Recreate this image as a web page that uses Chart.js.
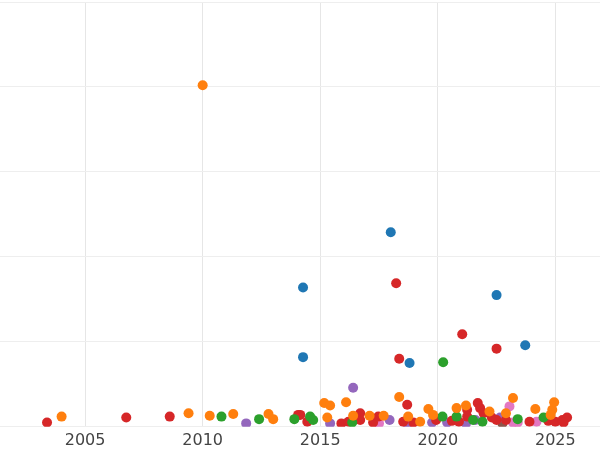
<!DOCTYPE html>
<html>
<head>
<meta charset="utf-8">
<script src="https://cdn.jsdelivr.net/npm/chart.js@4"></script>
<style>
  html, body { margin: 0; padding: 0; background: #fff; overflow: hidden; }
  #wrap { width: 610px; height: 453px; margin-top: -3px; margin-left: -5px; }
</style>
</head>
<body>
<div id="wrap"><canvas id="myChart"></canvas></div>
<script>
// [year, value] pairs per series
const blue = [[2018.0, 229], [2014.27, 164], [2022.5, 155], [2023.72, 96], [2014.27, 82], [2018.8, 75]];
const orange = [[2010.0, 402], [2004.0, 12], [2009.4, 16], [2010.3, 13], [2011.3, 15], [2012.8, 15], [2013.0, 9],
  [2015.17, 28], [2015.42, 25], [2015.3, 11], [2016.1, 29], [2016.4, 13], [2017.1, 13], [2017.7, 13],
  [2018.36, 35], [2018.74, 12], [2019.25, 6], [2019.6, 21], [2019.8, 14], [2020.8, 22], [2021.2, 25],
  [2022.2, 18], [2022.9, 16], [2023.2, 34], [2024.15, 21], [2024.87, 20], [2024.95, 29], [2024.8, 14]];
const green = [[2020.23, 76], [2010.8, 12], [2012.4, 9], [2013.9, 9], [2014.57, 12], [2014.7, 8], [2016.36, 5],
  [2020.2, 12], [2020.8, 12], [2021.5, 8], [2021.9, 6], [2023.4, 9], [2024.5, 11]];
const red = [[2018.23, 169], [2021.04, 109], [2022.5, 92], [2018.36, 80], [2003.38, 5], [2006.75, 11], [2008.6, 12],
  [2014.06, 14], [2014.15, 14], [2014.45, 6], [2015.9, 4], [2016.2, 6], [2016.7, 16], [2016.7, 8],
  [2017.25, 5], [2017.47, 12], [2018.7, 26], [2018.53, 6], [2018.96, 5], [2019.93, 8], [2020.6, 7],
  [2020.9, 6], [2021.25, 20], [2021.25, 12], [2021.7, 28], [2021.8, 22], [2021.95, 16], [2022.3, 11],
  [2022.5, 8], [2022.9, 8], [2023.9, 6], [2024.7, 7], [2025.0, 6], [2025.3, 8], [2025.5, 11], [2025.35, 5]];
const purple = [[2016.4, 46], [2011.85, 4], [2015.42, 4], [2017.95, 8], [2018.7, 4], [2019.76, 5], [2020.4, 5],
  [2021.2, 4], [2021.6, 8], [2022.65, 11]];
const pink = [[2017.5, 4], [2023.05, 24], [2023.2, 5], [2023.4, 5], [2024.2, 6]];
const brown = [[2022.75, 4]];

const xTicks = [2005, 2010, 2015, 2020, 2025];

const toPts = arr => arr.map(p => ({ x: p[0], y: p[1] }));
const series = [
  ["#1f77b4", blue], ["#ff7f0e", orange], ["#2ca02c", green], ["#d62728", red],
  ["#9467bd", purple], ["#e377c2", pink], ["#8c564b", brown]
];

new Chart(document.getElementById("myChart"), {
  type: "scatter",
  data: {
    datasets: series.map(([color, arr]) => ({
      data: toPts(arr),
      backgroundColor: color,
      borderWidth: 0,
      pointRadius: 5,
      pointHoverRadius: 5,
      clip: { left: 0, right: 0, top: 0, bottom: 0 }
    }))
  },
  options: {
    responsive: true,
    maintainAspectRatio: false,
    animation: false,
    layout: { padding: { top: 0, right: 0, bottom: -4, left: 0 } },
    plugins: { legend: { display: false }, tooltip: { enabled: false } },
    scales: {
      x: {
        type: "linear",
        min: 2001.38,
        max: 2026.9,
        afterBuildTicks: axis => { axis.ticks = xTicks.map(v => ({ value: v })); },
        ticks: {
          callback: v => String(v),
          color: "#444",
          font: { family: "DejaVu Sans", size: 16 },
          padding: 4
        },
        grid: { color: "#e6e6e6", drawTicks: false },
        border: { display: false }
      },
      y: {
        min: 0,
        max: 500,
        ticks: { display: false, stepSize: 100 },
        grid: { color: "#eeeeee", drawTicks: false },
        border: { display: false }
      }
    }
  }
});
</script>
</body>
</html>
